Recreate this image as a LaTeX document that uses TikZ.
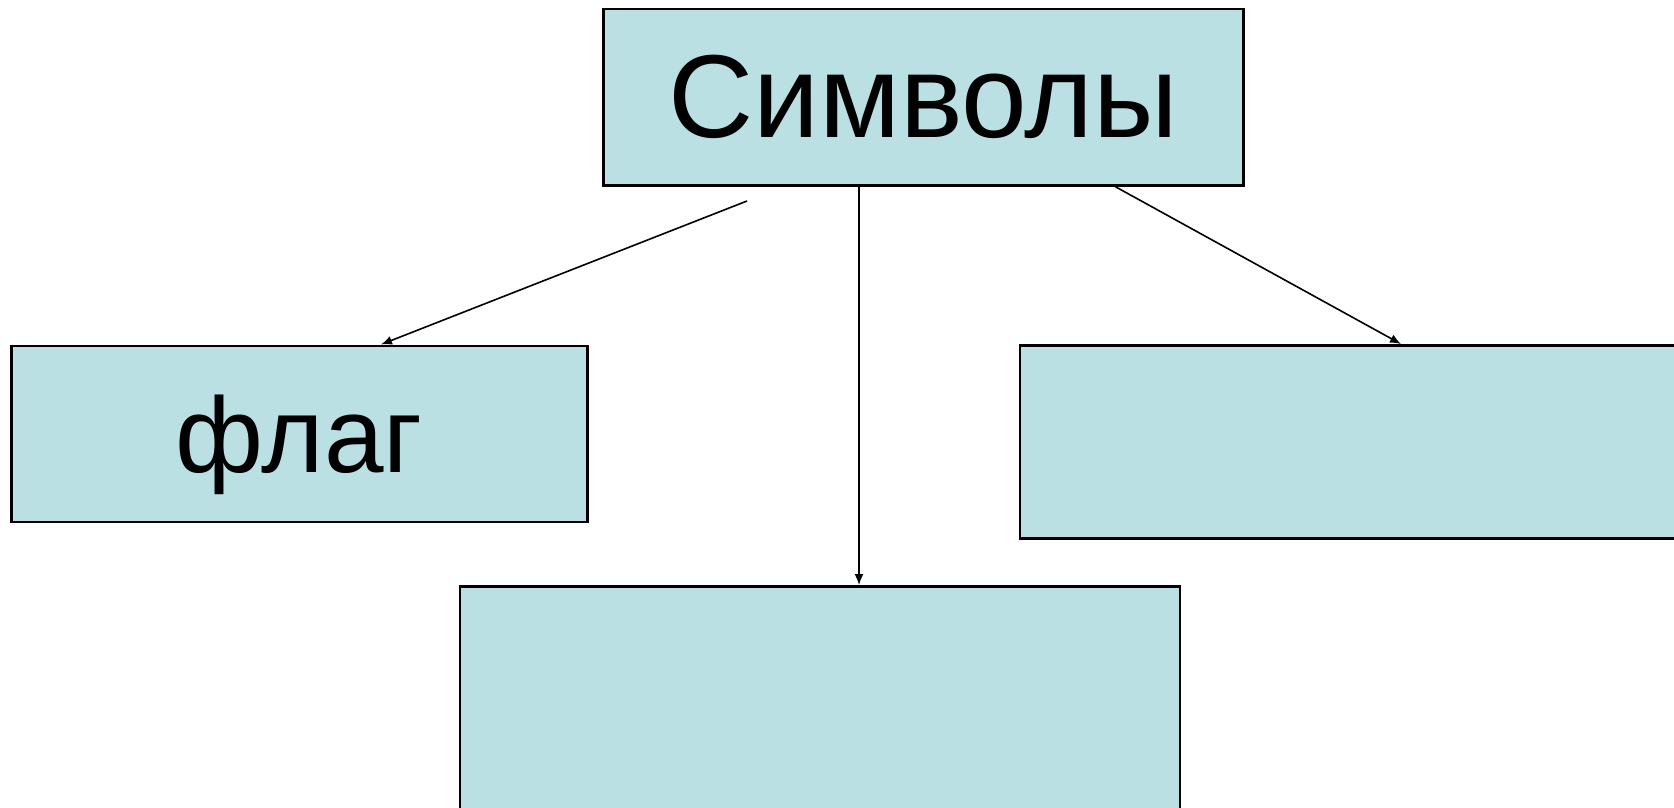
\documentclass[tikz,border=0pt]{standalone}
\usepackage{fontspec}
\setmainfont{Liberation Sans}
\usetikzlibrary{arrows.meta}
\definecolor{boxfill}{HTML}{BBE0E3}
\begin{document}
\begin{tikzpicture}[x=1pt,y=-1pt,
  box/.style={draw=black, line width=2.5pt, fill=boxfill, rectangle, inner sep=0pt, anchor=north west, align=center},
  arr/.style={draw=black, line width=1.6pt, -{Latex[length=11pt,width=9pt]}}]
\useasboundingbox[fill=white] (0,0) rectangle (1674,808);
\node[box, minimum width=640pt, minimum height=176pt, font=\fontsize{118}{118}\selectfont] (top) at (602,8) {Символы};
\node[box, minimum width=576pt, minimum height=176pt, text depth=0pt, font=\fontsize{107}{107}\selectfont] (left) at (10,344.5) {флаг};
\node[box, minimum width=700pt, minimum height=193pt] (right) at (1018.5,344) {};
\node[box, minimum width=720pt, minimum height=260pt] (bottom) at (458.5,585) {};
\coordinate (lstart) at (747,201);
\coordinate (lend) at (381,345);
\coordinate (rstart) at (1115,184);
\coordinate (rend) at (1401,344);
\coordinate (mx) at (859,0);
\draw[arr] (lstart) -- (left.north -| lend);
\draw[arr] (top.south -| mx) -- (bottom.north -| mx);
\draw[arr] (top.south -| rstart) -- (right.north -| rend);
\end{tikzpicture}
\end{document}
